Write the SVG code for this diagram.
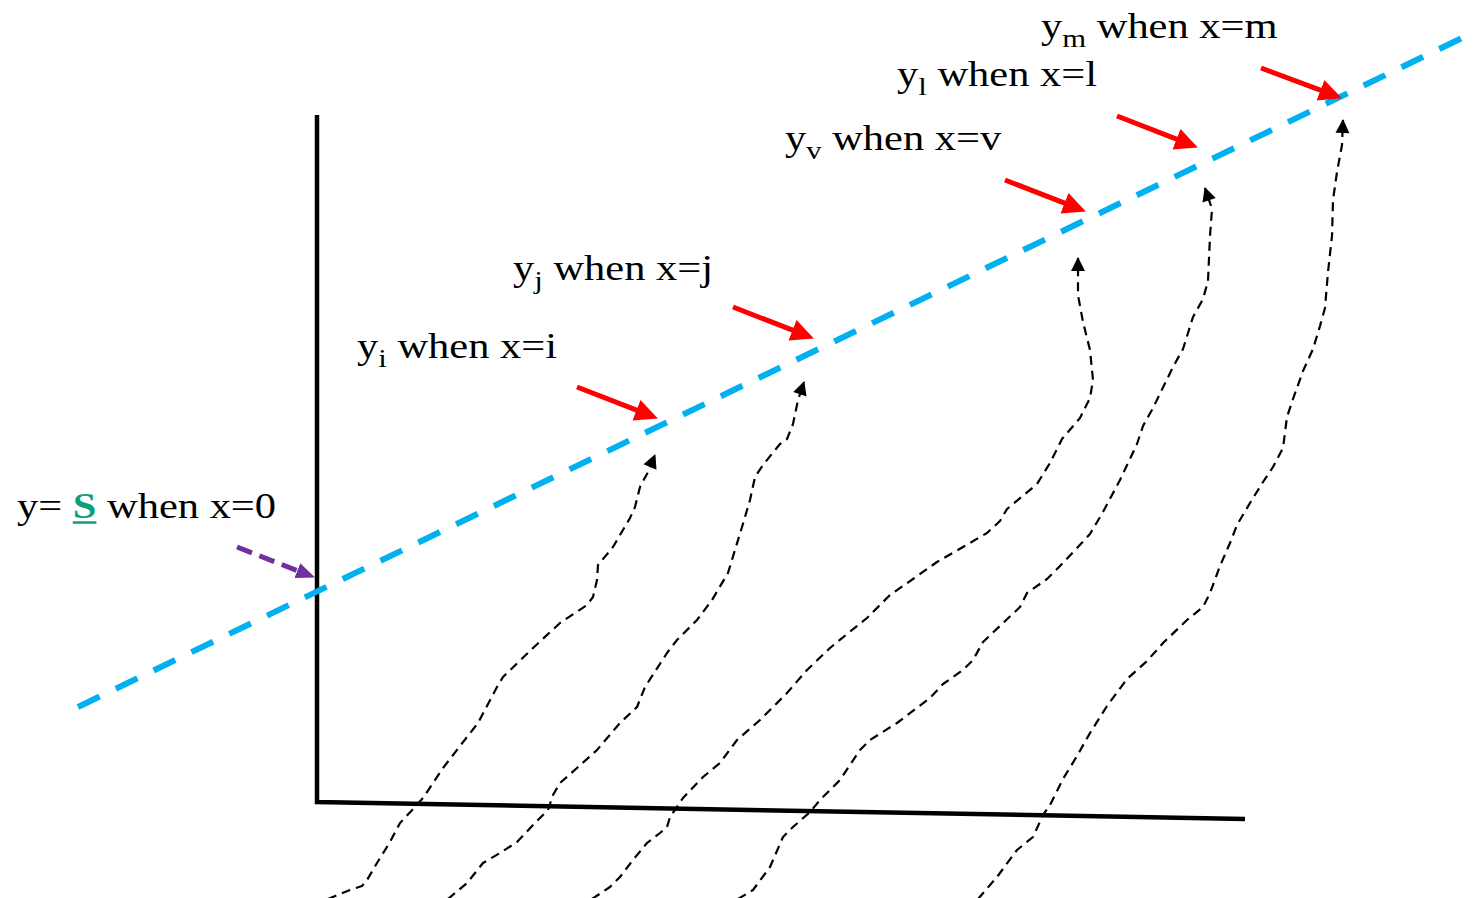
<svg xmlns="http://www.w3.org/2000/svg" width="1474" height="898" viewBox="0 0 1474 898">
<style>
.lbl{font-family:"Liberation Serif","Times New Roman",serif;font-size:36px;fill:#000}
.sub{font-size:26px}
.s{font-weight:bold;fill:#0E9E78}
.curve{fill:none;stroke:#000;stroke-width:2.2;stroke-dasharray:9 6;stroke-linejoin:round;marker-end:url(#blk)}
.red{fill:none;stroke:#FF0000;stroke-width:5;marker-end:url(#redhead)}
.axis{fill:none;stroke:#000;stroke-width:4.5;stroke-linejoin:miter}
</style>
<defs>
<marker id="blk" markerUnits="userSpaceOnUse" viewBox="-14 -8 16 16" markerWidth="16" markerHeight="16" refX="0" refY="0" orient="auto">
<path d="M1,0 L-13,-7 L-13,7 Z" fill="#000"/>
</marker>
<marker id="redhead" markerUnits="userSpaceOnUse" viewBox="0 -12 25 24" markerWidth="25" markerHeight="24" refX="7" refY="0" orient="auto">
<path d="M0,-11 L23,0 L0,11 Z" fill="#FF0000"/>
</marker>
<marker id="purplehead" markerUnits="userSpaceOnUse" viewBox="0 -9 20 18" markerWidth="20" markerHeight="18" refX="5" refY="0" orient="auto">
<path d="M0,-8 L19,0 L0,8 Z" fill="#7030A0"/>
</marker>
</defs>
<rect width="1474" height="898" fill="#fff"/>
<g id="axes">
<path class="axis" d="M317,115 L317,802 L1245,819"/>
</g>
<g id="trend-line">
<line x1="78" y1="707" x2="1462" y2="38" stroke="#00B0F0" stroke-width="6" stroke-dasharray="24 18"/>
</g>
<g id="connectors">
<path class="curve" d="M328,899 L350,890 L362,886 L367,880 L377,863 L390,842 L400,823 L415,807 L423,798 L443,768 L467,737 L478,723 L497,687 L503,677 L533,648 L560,623 L587,605 L593,597 L597,580 L598,565 L613,547 L630,518 L635,507 L640,487 L648,472 L655,455"/>
<path class="curve" d="M448,899 L467,883 L483,863 L500,853 L517,842 L533,825 L548,810 L553,795 L560,783 L577,768 L597,750 L620,723 L637,707 L645,687 L667,653 L677,640 L697,620 L712,600 L728,573 L742,527 L750,500 L755,477 L763,465 L780,444 L787,439 L793,424 L798,400 L804,382"/>
<path class="curve" d="M592,899 L610,887 L620,877 L633,860 L647,843 L660,833 L667,827 L670,817 L677,807 L683,798 L703,777 L720,763 L737,740 L760,720 L787,693 L807,670 L830,648 L852,630 L867,618 L890,595 L913,579 L937,562 L963,547 L987,533 L1000,521 L1007,509 L1037,484 L1050,463 L1062,439 L1080,418 L1090,398 L1093,380 L1090,350 L1083,322 L1078,295 L1078,258"/>
<path class="curve" d="M738,899 L753,890 L770,867 L783,837 L793,827 L810,812 L820,800 L840,780 L850,765 L860,750 L870,740 L897,723 L930,698 L943,684 L963,670 L973,660 L983,642 L1020,607 L1027,593 L1047,579 L1060,566 L1077,548 L1090,534 L1103,512 L1120,480 L1137,444 L1143,426 L1153,408 L1173,367 L1183,349 L1193,317 L1203,299 L1208,281 L1210,236 L1212,209 L1205,188"/>
<path class="curve" d="M978,899 L997,877 L1017,850 L1033,837 L1043,815 L1050,805 L1063,779 L1077,756 L1090,733 L1107,706 L1127,679 L1147,661 L1163,643 L1187,620 L1203,607 L1210,593 L1220,566 L1230,543 L1237,525 L1250,503 L1263,482 L1273,467 L1283,448 L1287,417 L1293,399 L1303,371 L1313,349 L1320,326 L1325,308 L1328,272 L1332,236 L1333,200 L1337,172 L1342,145 L1343,120"/>
<line class="red" x1="577" y1="387" x2="643" y2="412.7"/>
<line class="red" x1="733" y1="307" x2="799" y2="332.7"/>
<line class="red" x1="1005" y1="180" x2="1071" y2="205.7"/>
<line class="red" x1="1117" y1="116" x2="1183" y2="141.7"/>
<line class="red" x1="1261" y1="68" x2="1327" y2="92.7"/>
<line x1="237" y1="547" x2="302" y2="572.5" stroke="#7030A0" stroke-width="5" stroke-dasharray="16 8" marker-end="url(#purplehead)"/>
</g>
<g id="label-s" transform="translate(17,518) scale(1.18,1)">
<text class="lbl" x="0" y="0">y= <tspan class="s">S</tspan> when x=0</text>
<line x1="47.3" y1="4.5" x2="67.3" y2="4.5" stroke="#0E9E78" stroke-width="2.5"/>
</g>
<g id="label-i" transform="translate(357,358) scale(1.18,1)">
<text class="lbl" x="0" y="0">y<tspan class="sub" dy="9">i</tspan><tspan dy="-9"> when x=i</tspan></text>
</g>
<g id="label-j" transform="translate(513,280) scale(1.18,1)">
<text class="lbl" x="0" y="0">y<tspan class="sub" dy="9">j</tspan><tspan dy="-9"> when x=j</tspan></text>
</g>
<g id="label-v" transform="translate(785,150) scale(1.18,1)">
<text class="lbl" x="0" y="0">y<tspan class="sub" dy="9">v</tspan><tspan dy="-9"> when x=v</tspan></text>
</g>
<g id="label-l" transform="translate(897,86) scale(1.18,1)">
<text class="lbl" x="0" y="0">y<tspan class="sub" dy="9">l</tspan><tspan dy="-9"> when x=l</tspan></text>
</g>
<g id="label-m" transform="translate(1041,38) scale(1.18,1)">
<text class="lbl" x="0" y="0">y<tspan class="sub" dy="9">m</tspan><tspan dy="-9"> when x=m</tspan></text>
</g>
</svg>
